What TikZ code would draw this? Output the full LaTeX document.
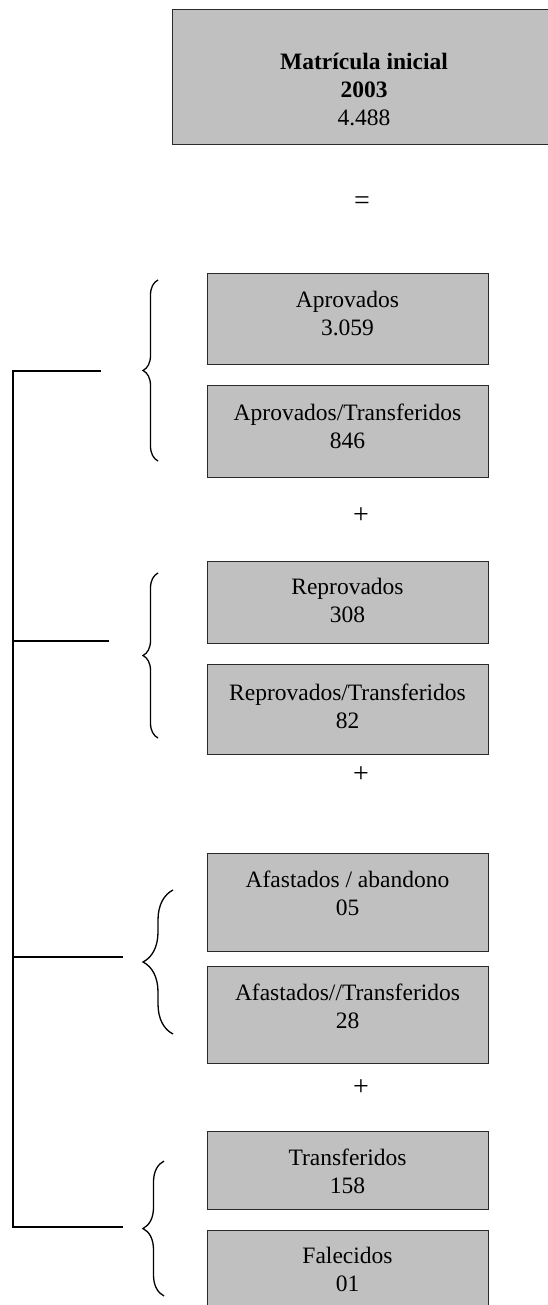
\documentclass[tikz,border=0pt]{standalone}
\usepackage{fontspec}
\setmainfont{Liberation Serif}
\usetikzlibrary{decorations.pathreplacing}
\definecolor{boxgray}{HTML}{C0C0C0}
\definecolor{edgegray}{HTML}{2A2A2A}
\begin{document}
\begin{tikzpicture}[x=1pt,y=-1pt,
  box/.style={rectangle, draw=edgegray, fill=boxgray, line width=1.1pt,
    inner sep=0pt, anchor=north west},
  txt/.style={align=center, inner sep=0pt, font=\fontsize{23.5}{28}\selectfont},
  sign/.style={inner sep=0pt, font=\fontsize{28}{30}\selectfont},
  rail/.style={line width=1.4pt, line cap=rect},
  curly/.style={decorate, decoration={brace, amplitude=#1}, line width=1.3pt},
]
\useasboundingbox (0,0) rectangle (547,1305);

% initial enrolment
\node[box, minimum width=384pt, minimum height=135pt] (mat) at (172,9) {};
\node[txt] (matT) at (364,90) {\textbf{Matrícula inicial}\\\textbf{2003}\\4.488};
\node[sign] (eq) at (362,203) {=};

% group 1
\node[box, minimum width=281pt, minimum height=91pt] (apr) at (207,273) {};
\node[txt] (aprT) at (347.5,314) {Aprovados\\3.059};
\node[box, minimum width=281pt, minimum height=92pt] (aprtr) at (207,385) {};
\node[txt] (aprtrT) at (347.5,426) {Aprovados/Transferidos\\846};
\node[sign] (p1) at (361,516) {+};

% group 2
\node[box, minimum width=281pt, minimum height=82pt] (rep) at (207,561) {};
\node[txt] (repT) at (347.5,600) {Reprovados\\308};
\node[box, minimum width=281pt, minimum height=90pt] (reptr) at (207,664) {};
\node[txt] (reptrT) at (347.5,706) {Reprovados/Transferidos\\82};
\node[sign] (p2) at (361,775) {+};

% group 3
\node[box, minimum width=281pt, minimum height=98pt] (afa) at (207,853) {};
\node[txt] (afaT) at (347.5,893) {Afastados / abandono\\05};
\node[box, minimum width=281pt, minimum height=97pt] (afatr) at (207,966) {};
\node[txt] (afatrT) at (347.5,1006) {Afastados//Transferidos\\28};
\node[sign] (p3) at (361,1088) {+};

% group 4
\node[box, minimum width=281pt, minimum height=78pt] (tra) at (207,1131) {};
\node[txt] (traT) at (347.5,1171.5) {Transferidos\\158};
\node[box, minimum width=281pt, minimum height=100pt] (fal) at (207,1230) {};
\node[txt] (falT) at (347.5,1269.5) {Falecidos\\01};

% braces grouping each pair
\coordinate (b1t) at (158,280);  \coordinate (b1b) at (158,461);
\coordinate (b2t) at (158,573);  \coordinate (b2b) at (158,738);
\coordinate (b3t) at (173,890);  \coordinate (b3b) at (173,1034);
\coordinate (b4t) at (164,1161); \coordinate (b4b) at (164,1296);
\draw[curly=15pt] (b1b) -- (b1t);
\draw[curly=15pt] (b2b) -- (b2t);
\draw[curly=30pt] (b3b) -- (b3t);
\draw[curly=21pt] (b4b) -- (b4t);

% summing bracket on the left
\coordinate (r1) at (13,371);  \coordinate (e1) at (100,371);
\coordinate (r2) at (13,641);  \coordinate (e2) at (108,641);
\coordinate (r3) at (13,957);  \coordinate (e3) at (122,957);
\coordinate (r4) at (13,1227); \coordinate (e4) at (122,1227);
\draw[rail] (e1) -- (r1) -- (r4) -- (e4);
\draw[rail] (r2) -- (e2);
\draw[rail] (r3) -- (e3);
\end{tikzpicture}
\end{document}
